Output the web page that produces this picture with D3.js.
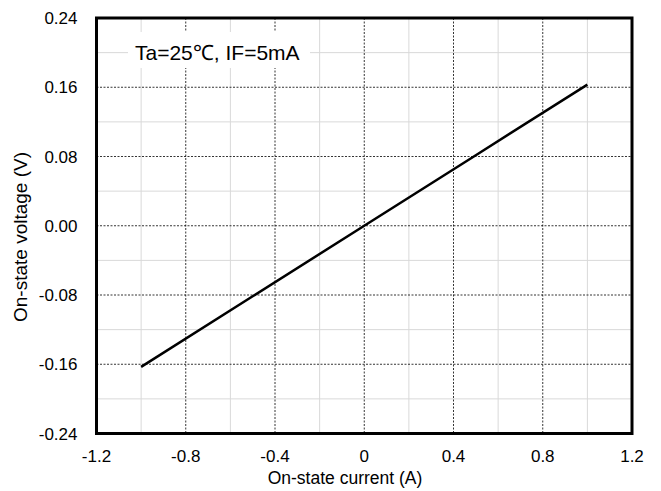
<!DOCTYPE html>
<html><head><meta charset="utf-8">
<script src="https://cdn.jsdelivr.net/npm/d3@7"></script>
<style>body{margin:0;background:#fff}svg{display:block}text{font-family:"Liberation Sans",Arial,sans-serif}</style>
</head><body>
<svg id="c" width="661" height="491"></svg>
<script>
const currentA = [-1.0, -0.5, 0.0, 0.5, 1.0];
const voltageV = [-0.163, -0.0815, 0.0, 0.0815, 0.163];
const xTicks = [-1.2, -0.8, -0.4, 0, 0.4, 0.8, 1.2];
const yTicks = [-0.24, -0.16, -0.08, 0, 0.08, 0.16, 0.24];
const xMinor = [-1.0, -0.6, -0.2, 0.2, 0.6, 1.0];
const yMinor = [-0.20, -0.12, -0.04, 0.04, 0.12, 0.20];

const svg = d3.select("#c");
const L = 96.5, R = 632, T = 18, B = 433.5;
const x = d3.scaleLinear().domain([-1.2, 1.2]).range([L, R]);
const y = d3.scaleLinear().domain([-0.24, 0.24]).range([B, T]);

svg.append("g").selectAll("line").data(xMinor).join("line")
  .attr("x1", d => x(d)).attr("x2", d => x(d)).attr("y1", T).attr("y2", B)
  .attr("stroke", "#d9d9d9").attr("stroke-width", 1);
svg.append("g").selectAll("line").data(yMinor).join("line")
  .attr("y1", d => y(d)).attr("y2", d => y(d)).attr("x1", L).attr("x2", R)
  .attr("stroke", "#d9d9d9").attr("stroke-width", 1);
svg.append("g").selectAll("line").data(xTicks.slice(1, -1)).join("line")
  .attr("x1", d => x(d)).attr("x2", d => x(d)).attr("y1", T).attr("y2", B)
  .attr("stroke", "#000").attr("stroke-width", 0.8).attr("stroke-dasharray", "2,1.5");
svg.append("g").selectAll("line").data(yTicks.slice(1, -1)).join("line")
  .attr("y1", d => y(d)).attr("y2", d => y(d)).attr("x1", L).attr("x2", R)
  .attr("stroke", "#000").attr("stroke-width", 0.8).attr("stroke-dasharray", "2,1.5");

svg.append("rect").attr("x", 128).attr("y", 32).attr("width", 182).attr("height", 36).attr("fill", "#fff");
svg.append("text").attr("x", 135).attr("y", 60).attr("font-size", 21).attr("fill", "#000")
  .text("Ta=25℃, IF=5mA");

svg.append("path").datum(currentA.map((d, i) => [d, voltageV[i]]))
  .attr("d", d3.line().x(d => x(d[0])).y(d => y(d[1])))
  .attr("fill", "none").attr("stroke", "#000").attr("stroke-width", 2.5);

svg.append("rect").attr("x", L).attr("y", T).attr("width", R - L).attr("height", B - T)
  .attr("fill", "none").attr("stroke", "#000").attr("stroke-width", 3);

const hy = s => s.replace("\u2212", "-");
const fmtX = d => d === 0 ? "0" : hy(d3.format(".1f")(d));
svg.append("g").selectAll("text").data(xTicks).join("text")
  .attr("x", d => x(d)).attr("y", B + 28).attr("text-anchor", "middle")
  .attr("font-size", 17).text(fmtX);
svg.append("g").selectAll("text").data(yTicks).join("text")
  .attr("x", L - 19).attr("y", d => y(d) + 6).attr("text-anchor", "end")
  .attr("font-size", 17).text(d => hy(d3.format(".2f")(d)));

svg.append("text").attr("x", 345).attr("y", 484).attr("text-anchor", "middle")
  .attr("font-size", 17.5).text("On-state current (A)");
svg.append("text").attr("transform", `translate(27,237) rotate(-90)`)
  .attr("text-anchor", "middle").attr("font-size", 19).text("On-state voltage (V)");
</script>
</body></html>
